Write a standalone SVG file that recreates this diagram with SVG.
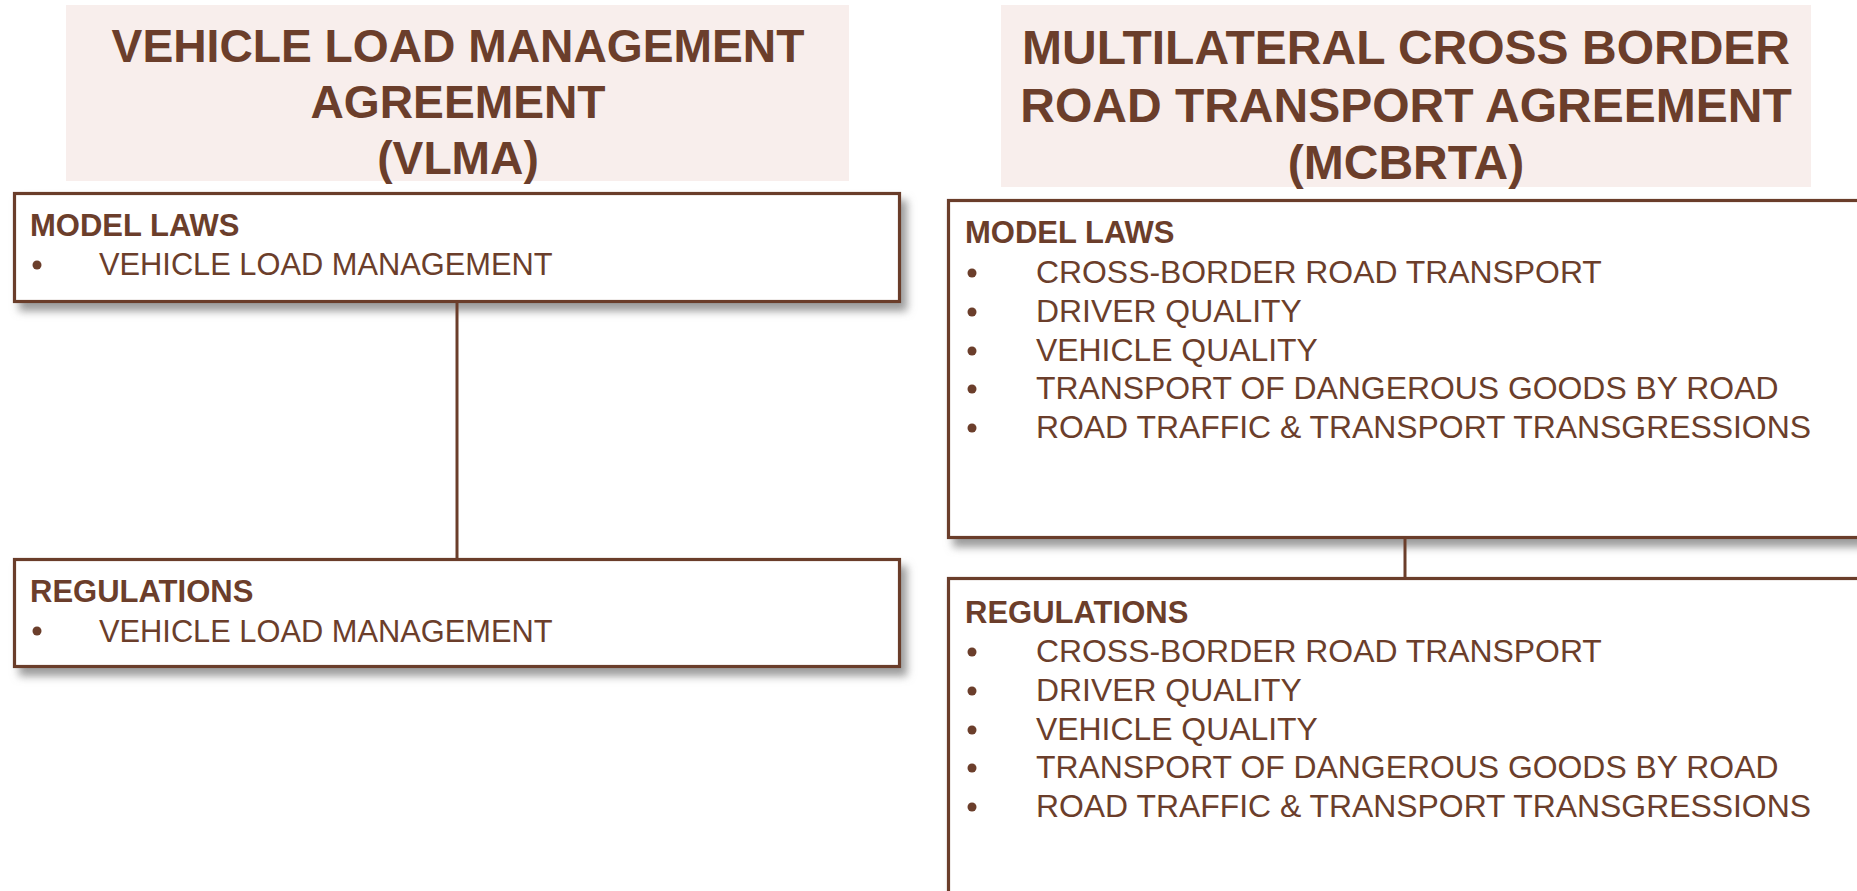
<svg xmlns="http://www.w3.org/2000/svg" width="1857" height="891" viewBox="0 0 1857 891">
<defs>
<filter id="sh" x="-5%" y="-20%" width="115%" height="150%">
<feDropShadow dx="6" dy="8" stdDeviation="4" flood-color="#7a7a7a" flood-opacity="0.75"/>
</filter>
<style>
.bg{fill:#F8EEEC}
.box{fill:#fff;stroke:#6B3E2B;stroke-width:3.2;filter:url(#sh)}
.t{font-family:"Liberation Sans",Arial,sans-serif;fill:#6B3E2B}
.title{font-weight:bold;text-anchor:middle}
.hd{font-weight:bold;font-size:31px}
.it{font-size:31.9px}
.bl{fill:#6B3E2B}
.con{stroke:#6B3E2B;stroke-width:3;fill:none}
</style>
</defs>
<rect width="1857" height="891" fill="#fff"/>
<g id="title-vlma">
<rect class="bg" x="66" y="5" width="783" height="176"/>
<text class="t title" font-size="46.2" x="458" y="62">VEHICLE LOAD MANAGEMENT</text>
<text class="t title" font-size="46.2" x="458" y="118">AGREEMENT</text>
<text class="t title" font-size="46.2" x="458" y="174">(VLMA)</text>
</g>
<g id="title-mcbrta">
<rect class="bg" x="1001" y="5" width="810" height="182"/>
<text class="t title" font-size="48" x="1406" y="64">MULTILATERAL CROSS BORDER</text>
<text class="t title" font-size="48" x="1406" y="122">ROAD TRANSPORT AGREEMENT</text>
<text class="t title" font-size="48" x="1406" y="179">(MCBRTA)</text>
</g>
<g id="vlma-model-laws">
<rect class="box" x="14.5" y="193.5" width="885" height="108"/>
<text class="t hd" x="30" y="236">MODEL LAWS</text>
<circle class="bl" cx="37" cy="265" r="4.5"/>
<text class="t" font-size="30.8" x="99" y="275">VEHICLE LOAD MANAGEMENT</text>
</g>
<g id="vlma-regulations">
<rect class="box" x="14.5" y="559.5" width="885" height="107"/>
<text class="t hd" x="30" y="602">REGULATIONS</text>
<circle class="bl" cx="37" cy="631" r="4.5"/>
<text class="t" font-size="30.8" x="99" y="642">VEHICLE LOAD MANAGEMENT</text>
</g>
<g id="mcbrta-model-laws">
<rect class="box" x="948.5" y="200.5" width="1000" height="337"/>
<text class="t hd" x="965" y="243">MODEL LAWS</text>
<circle class="bl" cx="972" cy="273" r="4.5"/>
<circle class="bl" cx="972" cy="312" r="4.5"/>
<circle class="bl" cx="972" cy="351" r="4.5"/>
<circle class="bl" cx="972" cy="389" r="4.5"/>
<circle class="bl" cx="972" cy="428" r="4.5"/>
<text class="t it" x="1036" y="283">CROSS-BORDER ROAD TRANSPORT</text>
<text class="t it" x="1036" y="322">DRIVER QUALITY</text>
<text class="t it" x="1036" y="361">VEHICLE QUALITY</text>
<text class="t it" x="1036" y="399">TRANSPORT OF DANGEROUS GOODS BY ROAD</text>
<text class="t it" x="1036" y="438">ROAD TRAFFIC &amp; TRANSPORT TRANSGRESSIONS</text>
</g>
<g id="mcbrta-regulations">
<rect class="box" x="948.5" y="578.5" width="1000" height="400"/>
<text class="t hd" x="965" y="623">REGULATIONS</text>
<circle class="bl" cx="972" cy="652" r="4.5"/>
<circle class="bl" cx="972" cy="691" r="4.5"/>
<circle class="bl" cx="972" cy="730" r="4.5"/>
<circle class="bl" cx="972" cy="768" r="4.5"/>
<circle class="bl" cx="972" cy="807" r="4.5"/>
<text class="t it" x="1036" y="662">CROSS-BORDER ROAD TRANSPORT</text>
<text class="t it" x="1036" y="701">DRIVER QUALITY</text>
<text class="t it" x="1036" y="740">VEHICLE QUALITY</text>
<text class="t it" x="1036" y="778">TRANSPORT OF DANGEROUS GOODS BY ROAD</text>
<text class="t it" x="1036" y="817">ROAD TRAFFIC &amp; TRANSPORT TRANSGRESSIONS</text>
</g>
<g id="connectors">
<line class="con" x1="457" y1="303" x2="457" y2="559"/>
<line class="con" x1="1405" y1="539" x2="1405" y2="578"/>
</g>
</svg>
